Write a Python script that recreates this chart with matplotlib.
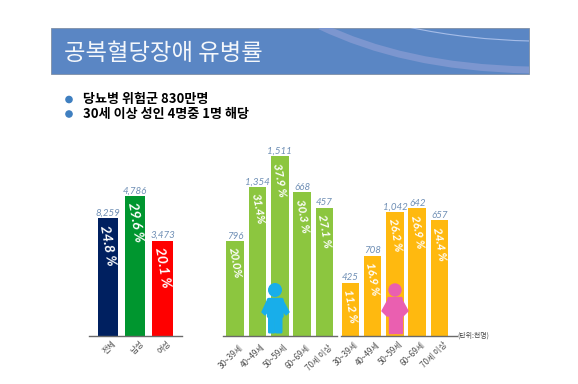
import matplotlib
matplotlib.use('Agg')
import matplotlib.pyplot as plt
from matplotlib.patches import Rectangle, Circle, Polygon, FancyBboxPatch, PathPatch
from matplotlib.path import Path
from matplotlib.transforms import ScaledTranslation

plt.rcParams['font.family'] = ['Noto Sans CJK KR', 'DejaVu Sans']

W, H = 578, 384

title = '공복혈당장애 유병률'
bullets = ['당뇨병 위험군 830만명', '30세 이상 성인 4명중 1명 해당']
unit_label = '(단위:천명)'

total_labels = ['전체', '남성', '여성']
total_rates = [24.8, 29.6, 20.1]
total_counts = ['8,259', '4,786', '3,473']
total_text = ['24.8 %', '29.6 %', '20.1 %']
total_colors = ['#002060', '#00962f', '#ff0000']

age_labels = ['30~39세', '40~49세', '50~59세', '60~69세', '70세 이상']
male_rates = [20.0, 31.4, 37.9, 30.3, 27.1]
male_counts = ['796', '1,354', '1,511', '668', '457']
male_text = ['20.0%', '31.4%', '37.9 %', '30.3 %', '27.1 %']
female_rates = [11.2, 16.9, 26.2, 26.9, 24.4]
female_counts = ['425', '708', '1,042', '642', '657']
female_text = ['11.2 %', '16.9 %', '26.2 %', '26.9 %', '24.4 %']

PX_PER_PCT = 4.73
BASE_Y = 335.7
LATIN = ['Lato', 'DejaVu Sans']


def group(fig, left, right, first, step, labels, rates, counts, texts, colors, pct_size, pad, bar_px, shift):
    # left/right = ends of the base line, first/step = bar centres, all in pixels
    n = len(rates)
    top = 130
    ax = fig.add_axes([left / W, 1 - BASE_Y / H, (right - left) / W, (BASE_Y - top) / H])
    ax.set_xlim((left - first) / step, (right - first) / step)
    ax.set_ylim(0, (BASE_Y - top) / PX_PER_PCT)
    ax.patch.set_alpha(0)
    ax.bar(range(n), rates, width=bar_px / step, color=colors, zorder=2)
    for s in ['top', 'left', 'right']:
        ax.spines[s].set_visible(False)
    ax.spines['bottom'].set_color('#6a6a6a')
    ax.spines['bottom'].set_linewidth(1.0)
    ax.spines['bottom'].set_zorder(3)
    ax.set_yticks([])
    ax.set_xticks(range(n))
    ax.set_xticklabels(labels, rotation=45, ha='right', rotation_mode='anchor',
                       fontsize=5.8, color='#4d4d4d')
    ax.tick_params(axis='x', length=0, pad=pad)
    # nudge the slanted labels sideways, they end right of the bar centre
    for lbl in ax.get_xticklabels():
        lbl.set_transform(lbl.get_transform() + ScaledTranslation(shift / 100, 0, fig.dpi_scale_trans))
    for i in range(n):
        ax.text(i, rates[i] + 0.1, counts[i], ha='center', va='bottom', fontsize=7,
                style='italic', color='#6f8fb5', family=LATIN, zorder=4)
        ax.text(i, rates[i] - 1.2, texts[i], ha='center', va='top', rotation=-80,
                fontsize=pct_size, style='italic', fontweight='bold', color='white',
                family=LATIN, zorder=4)
    return ax


fig = plt.figure(figsize=(W / 100, H / 100), dpi=100, facecolor='white')

# slide layer in pixel coordinates
bg = fig.add_axes([0, 0, 1, 1])
bg.set_xlim(0, W)
bg.set_ylim(H, 0)
bg.axis('off')
band = Rectangle((50.5, 27.5), 478.5, 46.5, facecolor='#5a86c4', edgecolor='#7f8fa6', linewidth=0.6, zorder=1)
bg.add_patch(band)
# swooshes on the right of the band
swoosh = PathPatch(Path([(320, 26), (375, 52), (440, 68), (530, 70)],
                        [Path.MOVETO, Path.CURVE4, Path.CURVE4, Path.CURVE4]),
                   facecolor='none', edgecolor='#7c96cf', linewidth=5, zorder=1.5)
bg.add_patch(swoosh)
swoosh.set_clip_path(band)
thin = PathPatch(Path([(408, 27), (450, 36), (490, 40), (530, 41)],
                      [Path.MOVETO, Path.CURVE4, Path.CURVE4, Path.CURVE4]),
                 facecolor='none', edgecolor='#a6bde8', linewidth=0.8, zorder=1.5)
bg.add_patch(thin)
thin.set_clip_path(band)
bg.text(64.5, 53, title, fontsize=16.8, color='#f4f7fb', va='center', ha='left', zorder=2)
for y, line in zip([99.5, 114], bullets):
    bg.add_patch(Circle((69, y), 3.1, color='#3f7fc0', zorder=2))
    bg.text(83, y, line, fontsize=9.4, fontweight='bold', color='black', va='center', ha='left', zorder=2)

group(fig, 89, 181.7, 107.8, 27.4, total_labels, total_rates, total_counts, total_text, total_colors, 10, 2, 20.5, 4)
group(fig, 222.7, 336.7, 235, 22.35, age_labels, male_rates, male_counts, male_text, ['#8cc63f'] * 5, 8.3, 5, 17.6, 3)
group(fig, 341, 456.7, 350.3, 22.3, age_labels, female_rates, female_counts, female_text, ['#ffb90f'] * 5, 8.3, 3, 17.6, 3)

# person icons on top of the bars
top = fig.add_axes([0, 0, 1, 1])
top.set_xlim(0, W)
top.set_ylim(H, 0)
top.axis('off')
top.patch.set_alpha(0)
blue = '#18aeea'
top.add_patch(Circle((275, 290), 6.3, color=blue))
top.add_patch(FancyBboxPatch((269, 300), 12.5, 16, boxstyle='round,pad=1.5', color=blue))
top.add_patch(Polygon([(268, 299), (262, 312), (265, 315), (271, 307)], color=blue))
top.add_patch(Polygon([(282, 299), (289, 312), (286, 315), (280, 307)], color=blue))
top.add_patch(FancyBboxPatch((269.5, 314), 4.5, 18, boxstyle='round,pad=0.8', color=blue))
top.add_patch(FancyBboxPatch((276.5, 314), 4.5, 18, boxstyle='round,pad=0.8', color=blue))
pink = '#ea5fb0'
top.add_patch(Circle((395, 290), 6, color=pink))
top.add_patch(FancyBboxPatch((389, 298.5), 12, 6, boxstyle='round,pad=1', color=pink))
top.add_patch(Polygon([(388, 300), (382, 311), (387, 316), (403, 316), (408, 311), (402, 300)], color=pink))
top.add_patch(Rectangle((389, 315), 5.5, 18, color=pink))
top.add_patch(Rectangle((396, 315), 5.5, 18, color=pink))
top.text(457.5, 335.5, unit_label, fontsize=5, color='#444444', va='center', ha='left')

fig.savefig('out.png', dpi=100)
